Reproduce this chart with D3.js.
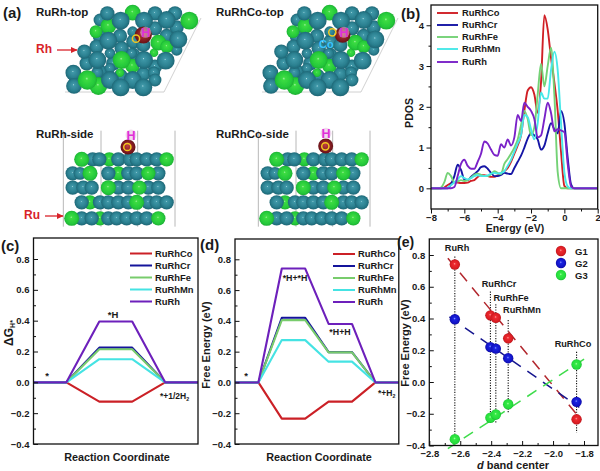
<!DOCTYPE html>
<html>
<head>
<meta charset="utf-8">
<script src="https://d3js.org/d3.v7.min.js"></script>
<style>
  html, body { margin: 0; padding: 0; background: #fff; }
  svg { display: block; }
  text { font-family: "Liberation Sans", Arial, sans-serif; font-weight: bold; fill: #1a1a1a; }
</style>
</head>
<body>
<script>
// ---- data ----
var alloys = ["RuRhCo", "RuRhCr", "RuRhFe", "RuRhMn", "RuRh"];

// (b) PDOS
var energy = [-8,-7.8,-7.6,-7.4,-7.2,-7,-6.8,-6.6,-6.4,-6.2,-6,-5.8,-5.6,-5.4,-5.2,-5,-4.8,-4.6,-4.4,-4.2,-4,-3.8,-3.6,-3.4,-3.2,-3,-2.8,-2.6,-2.4,-2.2,-2,-1.8,-1.6,-1.4,-1.2,-1,-0.8,-0.6,-0.4,-0.2,0,0.2,0.4,0.6,0.8,1,1.2,1.4,1.6,1.8,2];
var pdosCo = [0,0,0,0,.02,.08,.13,.15,.14,.13,.13,.14,.18,.2,.28,.32,.32,.3,.28,.28,.32,.38,.42,.5,.65,.85,1.05,1.3,1.9,2.4,2.48,2.3,1.85,2.6,4.25,3.9,3.2,2.6,1.9,.9,.06,0,0,0,0,0,0,0,0,0,0];
var pdosCr = [0,0,0,0,0,0,.1,.3,.58,.45,.22,.2,.28,.35,.42,.52,.54,.48,.38,.3,.3,.33,.38,.36,.35,.5,.65,.8,1,1.22,1.35,1.3,1.2,.95,1.05,1.35,1.6,1.45,1.35,1.9,1.6,.75,.1,0,0,0,0,0,0,0,0];
var pdosFe = [0,0,0,.02,.15,.38,.3,.15,.17,.2,.18,.2,.26,.33,.36,.33,.3,.3,.35,.42,.38,.35,.6,.72,.85,1,1.2,1.55,1.9,1.7,1.3,1.5,2.3,3.05,2.5,3,3.45,2.3,.4,0,0,0,0,0,0,0,0,0,0,0,0];
var pdosMn = [0,0,0,0,0,.02,.08,.15,.22,.3,.25,.22,.25,.3,.32,.3,.3,.32,.36,.38,.36,.38,.42,.55,.7,.9,1.1,1.3,1.8,1.75,1.45,1.2,1.6,2.35,2.2,2.2,2.9,3.35,2.9,1.6,.4,.05,0,0,0,0,0,0,0,0,0];
var pdosRh = [0,0,0,0,0,0,0,.03,.3,.6,.7,.55,.48,.48,.65,.85,1.15,1.1,.95,.82,.8,1.08,1,1.2,1.05,1.25,1.8,1.65,2.1,2,1.9,1.7,1.25,1.3,1.7,2.1,1.85,1.4,1.45,1.42,1.38,.6,.05,0,0,0,0,0,0,0,0];

// (c) hydrogen adsorption free energy
var stepsC = [0, 1, 2, 3, 4, 5];
var dgCo = [0, 0, -0.125, -0.125, 0, 0];
var dgCr = [0, 0, 0.225, 0.225, 0, 0];
var dgFe = [0, 0, 0.215, 0.215, 0, 0];
var dgMn = [0, 0, 0.15, 0.15, 0, 0];
var dgRh = [0, 0, 0.395, 0.395, 0, 0];

// (d) free energy along the path
var stepsD = [0, 1, 2, 3, 4, 5, 6, 7];
var feCo = [0, 0, -0.235, -0.235, -0.125, -0.125, 0, 0];
var feCr = [0, 0, 0.42, 0.42, 0.197, 0.197, 0, 0];
var feFe = [0, 0, 0.405, 0.405, 0.195, 0.195, 0, 0];
var feMn = [0, 0, 0.275, 0.275, 0.135, 0.135, 0, 0];
var feRh = [0, 0, 0.74, 0.74, 0.38, 0.38, 0, 0];

// (e) correlation with d band center
var bandAlloys = ["RuRh", "RuRhCr", "RuRhFe", "RuRhMn", "RuRhCo"];
var bandCenter = [-2.635, -2.405, -2.37, -2.29, -1.848];
var g1 = [0.74, 0.42, 0.405, 0.275, -0.235];
var g2 = [0.395, 0.22, 0.21, 0.15, -0.125];
var g3 = [-0.36, -0.225, -0.205, -0.14, 0.11];
var dropTop = [0.79, 0.57, 0.49, 0.39, 0.19];
var dropBottom = [-0.37, -0.26, -0.26, -0.19, -0.32];
var fitG1 = [[-2.68, 0.78], [-1.85, -0.2]];
var fitG2 = [[-2.67, 0.41], [-1.83, -0.16]];
var fitG3 = [[-2.68, -0.42], [-1.79, 0.15]];

// (a) atoms of the models: x, y, radius in model units, kind
var topAtoms = [
  // lower layer that fills the gaps
  [400,125,20,"t"],[360,108,20,"t"],[430,135,20,"t"],[500,108,20,"t"],[465,85,20,"t"],[365,145,20,"t"],
  [340,190,20,"t"],[400,165,20,"t"],[260,190,20,"t"],[228,235,20,"t"],[300,215,20,"t"],[362,228,20,"t"],
  [465,200,20,"t"],[530,82,20,"t"],[300,60,18,"t"],[430,222,20,"t"],[300,110,20,"t"],[530,150,16,"t"],
  [395,160,15,"t"],[330,160,15,"t"],[330,205,15,"t"],[462,218,17,"t"],[292,218,17,"t"],[465,240,18,"t"],
  [398,95,15,"t"],[360,218,12,"g"],[462,158,12,"g"],[397,198,20,"g"],[288,95,18,"g"],[325,78,22,"g"],
  [322,40,20,"t"],[465,40,20,"t"],[525,40,20,"t"],[398,38,22,"g"],[290,140,20,"t"],[253,155,20,"t"],
  [220,218,22,"t"],[222,258,22,"t"],[295,258,25,"g"],[475,128,22,"g"],[500,140,18,"g"],
  [362,62,25,"t"],[432,62,25,"t"],[500,60,25,"t"],[568,62,25,"g"],[535,118,25,"t"],[325,122,25,"t"],
  [432,180,25,"t"],[497,182,25,"t"],[292,180,25,"t"],[365,180,25,"g"],[262,240,27,"g"],[330,240,25,"t"],
  [398,240,25,"t"],[362,262,25,"t"],[430,262,25,"t"]
];
var sideAtoms = [
  [328,478,20,"g"],[278,478,20,"t"],[298,478,20,"t"],[355,478,20,"t"],[390,478,20,"t"],[410,478,20,"t"],[440,478,20,"t"],[470,478,20,"t"],[245,478,21,"g"],[500,478,20,"g"],
  [355,520,20,"g"],[218,520,20,"t"],[240,520,18,"t"],[325,520,20,"t"],[385,520,20,"t"],[410,520,20,"t"],[475,520,20,"t"],[270,520,21,"g"],[445,520,20,"g"],
  [218,563,20,"t"],[250,563,20,"t"],[275,563,20,"t"],[355,563,20,"t"],[385,563,20,"t"],[445,563,20,"t"],[475,563,20,"t"],[418,563,20,"g"],[325,563,21,"g"],
  [270,607,20,"g"],[245,607,20,"t"],[300,607,20,"t"],[325,607,20,"t"],[355,607,20,"t"],[385,607,20,"t"],[445,607,20,"t"],[470,607,20,"t"],[500,607,20,"t"],[410,607,21,"g"],
  [300,655,20,"g"],[245,655,20,"t"],[275,655,20,"t"],[325,655,20,"t"],[350,655,20,"t"],[380,655,20,"t"],[410,655,20,"t"],[440,655,20,"t"],[215,655,21,"g"],[475,655,20,"g"]
];
var sideWalls = [190, 303, 413, 525];

// ---- look ----
var colors = ["#cb2026", "#14149b", "#78cc6c", "#45e3e3", "#6d20bb"];
var pdosColors = ["#d01f25", "#1515a5", "#74d276", "#48e8e8", "#7a22c8"];

var svg = d3.select("body").append("svg")
  .attr("width", 600)
  .attr("height", 471);

var defs = svg.append("defs");
function ball(id, stops) {
  var g = defs.append("radialGradient").attr("id", id)
    .attr("cx", "50%").attr("cy", "50%").attr("r", "55%").attr("fx", "47%").attr("fy", "42%");
  stops.forEach(function(s) {
    g.append("stop").attr("offset", s[0]).attr("stop-color", s[1]);
  });
}
ball("teal", [["0%", "#b8e2e8"], ["10%", "#3f98a8"], ["62%", "#2b8090"], ["100%", "#1a5f6e"]]);
ball("lime", [["0%", "#a5f0a5"], ["14%", "#3cdc42"], ["70%", "#25c93a"], ["100%", "#1aa630"]]);
ball("oxy", [["0%", "#c04040"], ["55%", "#8c1f24"], ["100%", "#5c0f14"]]);
ball("mRed", [["0%", "#ff9a9a"], ["22%", "#ee2a30"], ["75%", "#d81c22"], ["100%", "#a81218"]]);
ball("mBlue", [["0%", "#8e98ff"], ["22%", "#1a24e0"], ["75%", "#1212c4"], ["100%", "#0a0a8c"]]);
ball("mGreen", [["0%", "#a8ffa8"], ["22%", "#35ea45"], ["75%", "#25dc3c"], ["100%", "#16b02c"]]);

defs.append("filter").attr("id", "soft").append("feGaussianBlur").attr("stdDeviation", 0.45);

defs.append("marker").attr("id", "arrowRed").attr("markerWidth", 6).attr("markerHeight", 6)
  .attr("refX", 5).attr("refY", 3).attr("orient", "auto")
  .append("path").attr("d", "M0,0.6L5.5,3L0,5.4Z").attr("fill", "#d8232a");

function label(x, y, str, size, anchor, color) {
  return svg.append("text")
    .attr("x", x).attr("y", y)
    .attr("font-size", size)
    .attr("text-anchor", anchor || "start")
    .style("fill", color || "#1a1a1a")
    .text(str);
}

// ---- panel (a) ----
var mx = d3.scaleLinear().domain([0, 600]).range([0, 200]);
var my = d3.scaleLinear().domain([0, 690]).range([0, 230]);
var mr = d3.scaleLinear().domain([0, 560]).range([0, 200]);

function drawAtoms(dx, atoms) {
  var g = svg.append("g").attr("transform", "translate(" + dx + ",0)").attr("filter", "url(#soft)");
  g.selectAll("circle.atom").data(atoms).enter().append("circle")
    .attr("class", "atom")
    .attr("cx", function(d) { return mx(d[0]); })
    .attr("cy", function(d) { return my(d[1]); })
    .attr("r", function(d) { return mr(d[2]); })
    .attr("fill", function(d) { return d[3] == "t" ? "url(#teal)" : "url(#lime)"; });
  return g;
}

function topModel(dx) {
  svg.append("path")
    .attr("transform", "translate(" + dx + ",0)")
    .attr("d", "M65,92L164,92L201,18")
    .attr("fill", "none").attr("stroke", "#c4c4c4").attr("stroke-width", 0.8);
  return drawAtoms(dx, topAtoms);
}

function sideModel(dx) {
  var walls = svg.append("g").attr("transform", "translate(" + dx + ",0)");
  walls.selectAll("line").data(sideWalls).enter().append("line")
    .attr("x1", function(d) { return mx(d); })
    .attr("x2", function(d) { return mx(d); })
    .attr("y1", my(392)).attr("y2", my(680))
    .attr("stroke", "#b8b8b8").attr("stroke-width", 1);
  return drawAtoms(dx, sideAtoms);
}

function adsorbate(dx, hx, hy, ox, oy, rx, ry, rr) {
  var g = svg.append("g").attr("transform", "translate(" + dx + ",0)");
  g.append("circle").attr("cx", mx(rx)).attr("cy", my(ry)).attr("r", mr(rr)).attr("fill", "url(#oxy)");
  g.append("circle").attr("cx", mx(hx)).attr("cy", my(hy)).attr("r", 5.5).attr("fill", "#e8b8e0").attr("opacity", 0.55);
  g.append("text").attr("x", mx(hx)).attr("y", my(hy) + 4.5).attr("font-size", 12.5)
    .attr("text-anchor", "middle").style("fill", "#e030d8").text("H");
  g.append("circle").attr("cx", mx(ox)).attr("cy", my(oy)).attr("r", 3.6)
    .attr("fill", "none").attr("stroke", "#f2c81f").attr("stroke-width", 1.5);
}

topModel(0);
adsorbate(0, 437, 97, 408, 116, 430, 105, 24);
topModel(197);
adsorbate(197, 441, 97, 406, 97, 437, 105, 22);
label(319, 48, "Co", 11, "start", "#38c4ff");

sideModel(0);
adsorbate(0, 393, 405, 382, 441, 384, 441, 21);
sideModel(195);
adsorbate(195, 393, 400, 391, 439, 392, 438, 21);

label(36, 16, "RuRh-top", 11.5);
label(216, 16, "RuRhCo-top", 11.5);
label(36, 138, "RuRh-side", 11.5);
label(216, 138, "RuRhCo-side", 11.5);
label(36, 53, "Rh", 12, "start", "#d8232a");
label(24, 219, "Ru", 12, "start", "#d8232a");
[[57, 50, 77, 50], [45, 216, 63, 216]].forEach(function(a) {
  svg.append("line")
    .attr("x1", a[0]).attr("y1", a[1]).attr("x2", a[2]).attr("y2", a[3])
    .attr("stroke", "#d8232a").attr("stroke-width", 1.3)
    .attr("marker-end", "url(#arrowRed)");
});

// ---- shared chart helpers ----
function frame(x0, y0, x1, y1) {
  svg.append("rect")
    .attr("x", x0).attr("y", y0)
    .attr("width", x1 - x0).attr("height", y1 - y0)
    .attr("fill", "none").attr("stroke", "#111").attr("stroke-width", 1.3);
}

function styleAxis(g, size) {
  g.select(".domain").remove();
  g.selectAll("line").attr("stroke", "#111").attr("stroke-width", 1);
  g.selectAll("text").attr("font-size", size).style("fill", "#1a1a1a");
}

function leftAxis(scale, x, major, minor, inward, fmt, pad) {
  var dir = inward ? -1 : 1;
  var a1 = svg.append("g").attr("transform", "translate(" + x + ",0)")
    .call(d3.axisLeft(scale).tickValues(minor).tickSize(2.5 * dir).tickFormat(""));
  styleAxis(a1, 9.5);
  var a2 = svg.append("g").attr("transform", "translate(" + x + ",0)")
    .call(d3.axisLeft(scale).tickValues(major).tickSize(4.5 * dir).tickPadding(pad).tickFormat(fmt));
  styleAxis(a2, 9.5);
  a2.selectAll("text").attr("x", -pad).attr("text-anchor", "end");
}

function bottomAxis(scale, y, major, minor, inward, fmt) {
  var dir = inward ? -1 : 1;
  var a1 = svg.append("g").attr("transform", "translate(0," + y + ")")
    .call(d3.axisBottom(scale).tickValues(minor).tickSize(2.5 * dir).tickFormat(""));
  styleAxis(a1, 9.5);
  var a2 = svg.append("g").attr("transform", "translate(0," + y + ")")
    .call(d3.axisBottom(scale).tickValues(major).tickSize(4.5 * dir).tickFormat(fmt));
  styleAxis(a2, 9.5);
  a2.selectAll("text").attr("y", 5).attr("dy", "0.71em");
}

function legendLines(x0, x1, tx, ys, cols, width) {
  alloys.forEach(function(name, i) {
    svg.append("line")
      .attr("x1", x0).attr("x2", x1).attr("y1", ys[i]).attr("y2", ys[i])
      .attr("stroke", cols[i]).attr("stroke-width", width);
    label(tx, ys[i] + 3.2, name, 9.4);
  });
}

function rotated(x, y, str, size) {
  return svg.append("text")
    .attr("transform", "translate(" + x + "," + y + ") rotate(-90)")
    .attr("text-anchor", "middle")
    .attr("font-size", size)
    .text(str);
}

function withSub(x, y, before, sub, size) {
  var t = svg.append("text").attr("x", x).attr("y", y).attr("font-size", size);
  t.append("tspan").text(before);
  t.append("tspan").attr("font-size", size * 0.62).attr("dy", 2).text(sub);
  return t;
}

// ---- panel (b) ----
var xB = d3.scaleLinear().domain([-8, 2]).range([431, 597.7]);
var yB = d3.scaleLinear().domain([-0.5, 4.5]).range([208.7, 4.9]);
var pdosSeries = [pdosCo, pdosCr, pdosFe, pdosMn, pdosRh];
var pdosLine = d3.line().curve(d3.curveMonotoneX)
  .x(function(d) { return xB(d[0]); })
  .y(function(d) { return yB(d[1]); });
pdosSeries.forEach(function(vals, i) {
  svg.append("path")
    .attr("d", pdosLine(d3.zip(energy, vals)))
    .attr("fill", "none")
    .attr("stroke", pdosColors[i])
    .attr("stroke-width", 1.9)
    .attr("stroke-linejoin", "round");
});
frame(431, 5, 597.7, 209);
leftAxis(yB, 431, [0, 1, 2, 3, 4], [0.5, 1.5, 2.5, 3.5], false, d3.format("d"), 7);
bottomAxis(xB, 209, [-8, -6, -4, -2, 0, 2], [-7, -5, -3, -1, 1], false, d3.format("d"));
legendLines(437, 458, 462, [13, 25, 37, 49, 62], pdosColors, 1.9);
rotated(413, 113, "PDOS", 10.5);
label(515, 232, "Energy (eV)", 10.5, "middle");

// ---- panel (c) ----
var xC = d3.scaleLinear().domain([0, 5]).range([33.5, 198]);
var yC = d3.scaleLinear().domain([-0.4, 0.8]).range([444, 259]);
var step = d3.line();
[dgCo, dgCr, dgFe, dgMn, dgRh].forEach(function(vals, i) {
  step.x(function(d) { return xC(d[0]); }).y(function(d) { return yC(d[1]); });
  svg.append("path")
    .attr("d", step(d3.zip(stepsC, vals)))
    .attr("fill", "none")
    .attr("stroke", colors[i])
    .attr("stroke-width", 2.1)
    .attr("stroke-linejoin", "round");
});
frame(33.5, 238, 198, 444);
var eTicks = [-0.4, -0.2, 0, 0.2, 0.4, 0.6, 0.8];
var eMinor = [-0.3, -0.1, 0.1, 0.3, 0.5, 0.7];
leftAxis(yC, 33.5, eTicks, eMinor, true, d3.format(".1f"), 4);
legendLines(130, 152, 155, [253.5, 265.5, 277.5, 289.5, 301.5], colors, 2);
label(113, 318, "*H", 9.5, "middle");
label(47, 379, "*", 9.5, "middle");
withSub(160, 399, "*+1/2H", "2", 8.5);
label(117, 461, "Reaction Coordinate", 10.8, "middle");
var dgTitle = svg.append("text")
  .attr("transform", "translate(13,333) rotate(-90)")
  .attr("text-anchor", "middle").attr("font-size", 12);
dgTitle.append("tspan").text("\u0394G");
dgTitle.append("tspan").attr("font-size", 7).attr("dy", 2).text("H*");

// ---- panel (d) ----
var xD = d3.scaleLinear().domain([0, 7]).range([235, 398.8]);
var yD = d3.scaleLinear().domain([-0.4, 0.8]).range([444, 259.3]);
[feCo, feCr, feFe, feMn, feRh].forEach(function(vals, i) {
  step.x(function(d) { return xD(d[0]); }).y(function(d) { return yD(d[1]); });
  svg.append("path")
    .attr("d", step(d3.zip(stepsD, vals)))
    .attr("fill", "none")
    .attr("stroke", colors[i])
    .attr("stroke-width", 2.1)
    .attr("stroke-linejoin", "round");
});
frame(235, 239, 398.8, 444);
leftAxis(yD, 235, eTicks, eMinor, true, d3.format(".1f"), 4);
legendLines(333, 355, 358, [254, 266, 278, 290, 302], colors, 2);
label(246, 379, "*", 9.5, "middle");
label(295, 281, "*H+*H", 8.8, "middle");
label(340, 335, "*H+H", 8.8, "middle");
withSub(378, 396, "*+H", "2", 8.5);
label(319, 461, "Reaction Coordinate", 10.8, "middle");
rotated(210, 345, "Free Energy (eV)", 11);

// ---- panel (e) ----
var xE = d3.scaleLinear().domain([-2.8, -1.8]).range([429.3, 584]);
var yE = d3.scaleLinear().domain([-0.4, 0.8]).range([445.5, 255]);
bandCenter.forEach(function(c, i) {
  svg.append("line")
    .attr("x1", xE(c)).attr("x2", xE(c))
    .attr("y1", yE(dropTop[i])).attr("y2", yE(dropBottom[i]))
    .attr("stroke", "#111").attr("stroke-width", 1.1)
    .attr("stroke-dasharray", "1.2,1.4");
});
var fitLines = [[fitG1, "#b2272d"], [fitG2, "#16168f"], [fitG3, "#3fdc4c"]];
fitLines.forEach(function(f) {
  svg.append("line")
    .attr("x1", xE(f[0][0][0])).attr("y1", yE(f[0][0][1]))
    .attr("x2", xE(f[0][1][0])).attr("y2", yE(f[0][1][1]))
    .attr("stroke", f[1]).attr("stroke-width", 1.5)
    .attr("stroke-dasharray", "11,8");
});
var groups = [[g3, "mGreen"], [g2, "mBlue"], [g1, "mRed"]];
groups.forEach(function(g) {
  svg.append("g").selectAll("circle")
    .data(d3.zip(bandCenter, g[0]))
    .enter().append("circle")
    .attr("cx", function(d) { return xE(d[0]); })
    .attr("cy", function(d) { return yE(d[1]); })
    .attr("r", 5.2)
    .attr("fill", "url(#" + g[1] + ")");
});
frame(429.3, 239, 598, 445.5);
leftAxis(yE, 429.3, eTicks, eMinor, true, d3.format(".1f"), 4);
bottomAxis(xE, 445.5, [-2.8, -2.6, -2.4, -2.2, -2, -1.8], [-2.7, -2.5, -2.3, -2.1, -1.9], true, d3.format(".1f"));
var bandLabelPos = [[457, 251], [499, 287], [511, 301], [522, 313], [573, 347]];
bandAlloys.forEach(function(name, i) {
  label(bandLabelPos[i][0], bandLabelPos[i][1], name, 9.2, "middle");
});
[["G1", "mRed"], ["G2", "mBlue"], ["G3", "mGreen"]].forEach(function(d, i) {
  svg.append("circle").attr("cx", 561).attr("cy", 251 + i * 12).attr("r", 5.2).attr("fill", "url(#" + d[1] + ")");
  label(575, 254.5 + i * 12, d[0], 9.5);
});
rotated(409, 343, "Free Energy (eV)", 11);
var bandTitle = svg.append("text")
  .attr("x", 513).attr("y", 469).attr("text-anchor", "middle").attr("font-size", 11);
bandTitle.append("tspan").style("font-style", "italic").text("d");
bandTitle.append("tspan").text(" band center");

// ---- panel letters ----
label(3, 18, "(a)", 15);
label(401, 19, "(b)", 15);
label(1, 251, "(c)", 15);
label(200, 250, "(d)", 15);
label(397, 247, "(e)", 14);
</script>
</body>
</html>
